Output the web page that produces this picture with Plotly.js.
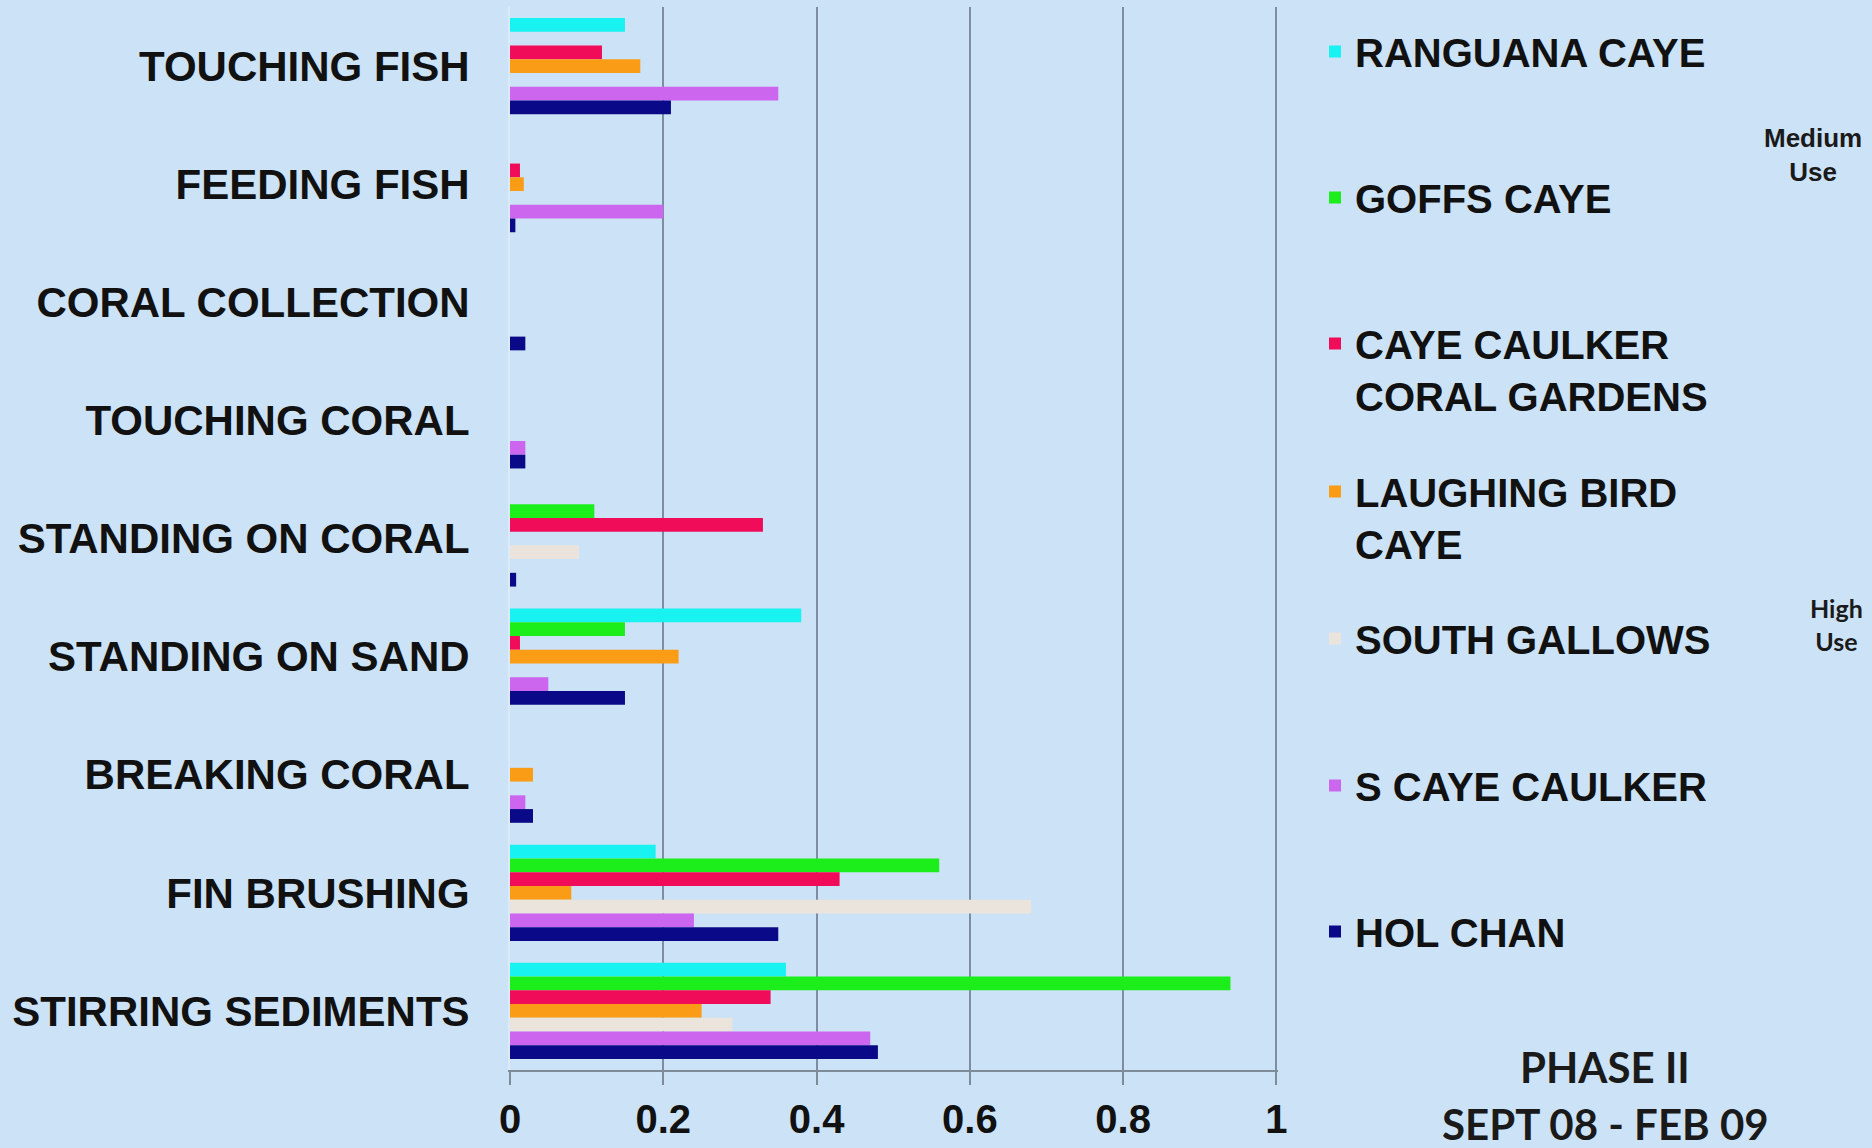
<!DOCTYPE html>
<html>
<head>
<meta charset="utf-8">
<script src="https://cdn.plot.ly/plotly-3.0.1.min.js"></script>
<style>
  html, body { margin: 0; padding: 0; background: #CCE2F6; }
  #chart { width: 1872px; height: 1148px; }
</style>
</head>
<body>
<div id="chart"></div>
<script>
// ---- data ----
const categories = ['TOUCHING FISH', 'FEEDING FISH', 'CORAL COLLECTION', 'TOUCHING CORAL',
  'STANDING ON CORAL', 'STANDING ON SAND', 'BREAKING CORAL', 'FIN BRUSHING', 'STIRRING SEDIMENTS'];

const seriesNames = ['RANGUANA CAYE', 'GOFFS CAYE', 'CAYE CAULKER<br>CORAL GARDENS',
  'LAUGHING BIRD<br>CAYE', 'SOUTH GALLOWS', 'S CAYE CAULKER', 'HOL CHAN'];

const ranguanaCaye   = [0.15, 0,     0,    0,    0,     0.38,  0,    0.19, 0.36];
const goffsCaye      = [0,    0,     0,    0,    0.11,  0.15,  0,    0.56, 0.94];
const cayeCaulkerCG  = [0.12, 0.013, 0,    0,    0.33,  0.013, 0,    0.43, 0.34];
const laughingBird   = [0.17, 0.018, 0,    0,    0,     0.22,  0.03, 0.08, 0.25];
const southGallows   = [0,    0,     0,    0,    0.09,  0,     0,    0.68, 0.29];
const sCayeCaulker   = [0.35, 0.20,  0,    0.02, 0,     0.05,  0.02, 0.24, 0.47];
const holChan        = [0.21, 0.007, 0.02, 0.02, 0.008, 0.15,  0.03, 0.35, 0.48];

const xTickVals  = [0, 0.2, 0.4, 0.6, 0.8, 1];
const xTickText  = ['0', '0.2', '0.4', '0.6', '0.8', '1'];

// ---- styling ----
const colors = ['#18F2F0', '#1BEE1B', '#F00C58', '#FA9C16', '#EBE4DC', '#CC66EE', '#0A0A88'];
const allValues = [ranguanaCaye, goffsCaye, cayeCaulkerCG, laughingBird, southGallows, sCayeCaulker, holChan];

const W = 1872, H = 1148;
const M = { l: 510, r: 594, t: 7, b: 78 };
const PH = H - M.t - M.b, PW = W - M.l - M.r;
const py = p => (H - M.b - p) / PH;      // pixel y -> paper y
const px = p => (p - M.l) / PW;          // pixel x -> paper x

const BG = '#CCE2F6';
const FONT = 'Liberation Sans, Arial, sans-serif';
const FONT2 = 'Lato, Open Sans, sans-serif';

const legendTops = [19, 165, 311, 459, 606, 753, 899];

const traces = allValues.map((vals, i) => ({
  type: 'bar',
  orientation: 'h',
  name: seriesNames[i],
  x: vals,
  y: categories,
  marker: { color: colors[i], line: { width: 0 } },
  legend: i === 0 ? 'legend' : 'legend' + (i + 1),
  hoverinfo: 'x+name'
}));

const layout = {
  width: W, height: H,
  margin: M,
  paper_bgcolor: BG,
  plot_bgcolor: BG,
  barmode: 'group',
  bargap: 0.186,
  bargroupgap: 0,
  showlegend: true,
  xaxis: {
    range: [0, 1.002],
    tickvals: xTickVals,
    ticktext: xTickText,
    showgrid: true,
    gridcolor: '#7E8EA0',
    gridwidth: 2,
    zeroline: false,
    showline: true,
    linecolor: '#7E8C9A',
    linewidth: 2,
    ticks: 'outside',
    ticklen: 13,
    tickwidth: 2,
    tickcolor: '#7E8C9A',
    ticklabelstandoff: 0,
    tickfont: { family: FONT, size: 40, color: '#111111', weight: 'bold' },
    fixedrange: true
  },
  yaxis: {
    type: 'category',
    autorange: 'reversed',
    showgrid: false,
    zeroline: false,
    showline: true,
    linecolor: '#DCEAF7',
    linewidth: 2,
    ticks: '',
    ticklabelstandoff: 30,
    tickfont: { family: FONT, size: 42, color: '#111111', weight: 'bold' },
    fixedrange: true
  },
  annotations: [
    { text: 'Medium<br>Use', xref: 'paper', yref: 'paper', x: px(1813), y: py(155),
      xanchor: 'center', yanchor: 'middle', showarrow: false, align: 'center',
      font: { family: FONT, size: 26, color: '#1A1A1A', weight: 'bold' } },
    { text: 'High<br>Use', xref: 'paper', yref: 'paper', x: px(1836), y: py(624),
      xanchor: 'center', yanchor: 'middle', showarrow: false, align: 'center',
      font: { family: FONT2, size: 25, color: '#1A1A1A', weight: 'bold' } },
    { text: 'PHASE II', xref: 'paper', yref: 'paper', x: px(1605), y: py(1067),
      xanchor: 'center', yanchor: 'middle', showarrow: false,
      font: { family: FONT2, size: 42, color: '#1A1A1A', weight: 'bold' } },
    { text: 'SEPT 08 - FEB 09', xref: 'paper', yref: 'paper', x: px(1605), y: py(1124),
      xanchor: 'center', yanchor: 'middle', showarrow: false,
      font: { family: FONT2, size: 42, color: '#1A1A1A', weight: 'bold' } }
  ]
};

legendTops.forEach((top, i) => {
  const key = i === 0 ? 'legend' : 'legend' + (i + 1);
  layout[key] = {
    x: px(1315), xanchor: 'left',
    y: py(top), yanchor: 'top',
    bgcolor: 'rgba(0,0,0,0)',
    borderwidth: 0,
    valign: 'top',
    font: { family: FONT, size: 40, color: '#111111', weight: 'bold' }
  };
});

Plotly.newPlot('chart', traces, layout, { displayModeBar: false, staticPlot: true });
</script>
</body>
</html>
